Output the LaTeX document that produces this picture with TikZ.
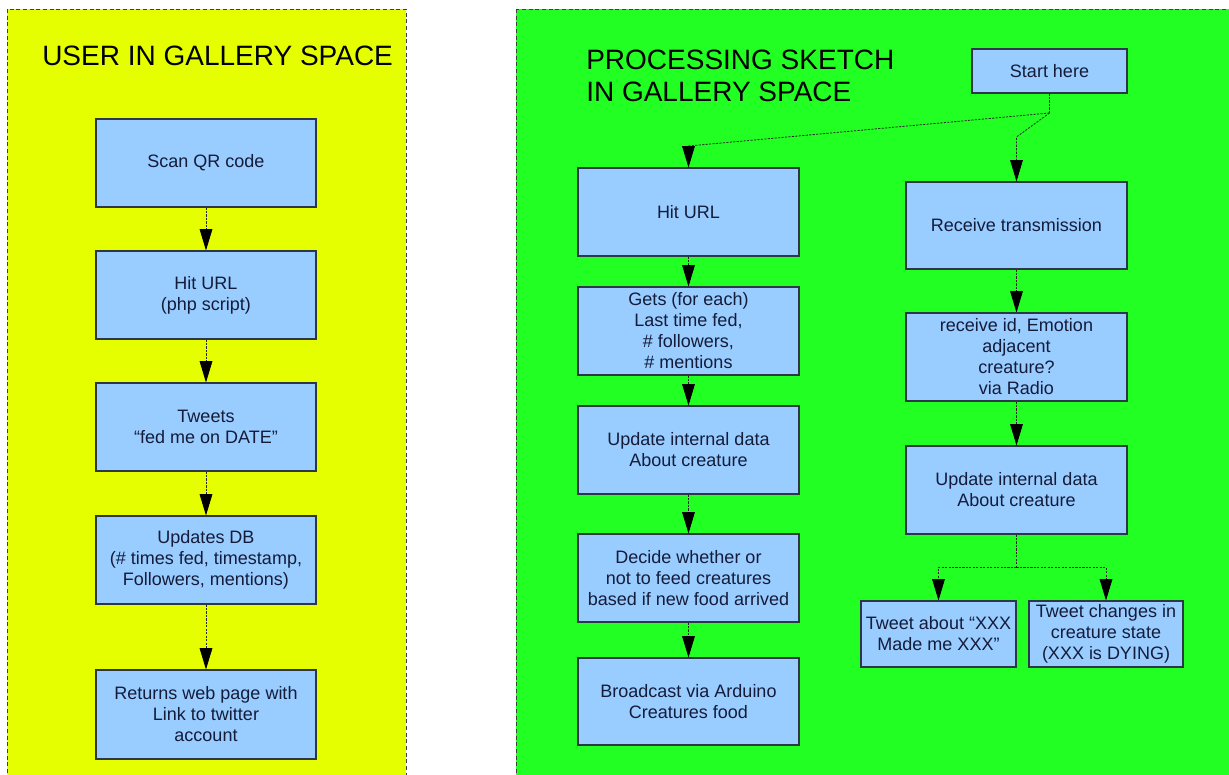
\documentclass[tikz,border=0pt]{standalone}
\usepackage{fontspec}
\setmainfont{Liberation Sans}
\usetikzlibrary{arrows.meta}
\definecolor{panelyellow}{RGB}{230,255,0}
\definecolor{panelgreen}{RGB}{34,255,34}
\definecolor{boxfill}{RGB}{153,204,255}
\definecolor{boxline}{RGB}{45,55,70}
\definecolor{boxtext}{RGB}{20,28,58}
\begin{document}
\begin{tikzpicture}[x=0.75pt,y=-0.75pt,
  panel/.style={draw=black!75, densely dashed, line width=0.5pt},
  box/.style={draw=boxline, fill=boxfill, line width=0.8pt, text=boxtext, align=center,
    inner sep=0pt, font=\fontsize{13.5}{15.75}\selectfont},
  sz/.style 2 args={minimum width=#1*0.75pt, minimum height=#2*0.75pt},
  title/.style={font=\fontsize{21}{24}\selectfont, text=black, inner sep=0pt, align=left},
  dline/.style={draw=black!85, line width=0.6pt, dash pattern=on 1.6pt off 1pt},
  conn/.style={dline, -{Triangle[length=16pt,width=9.5pt,color=black,fill=black]}}]
\clip (0,0) rectangle (1229,775);
\fill[white] (0,0) rectangle (1229,775);
% panels
\path[panel, fill=panelyellow] (7,9) rectangle (406,800);
\path[panel, fill=panelgreen] (516,9) rectangle (1240,800);
% titles
\node[title, anchor=base west] (t1) at (42,65) {USER IN GALLERY SPACE};
\node[title, anchor=north west] (t2) at (586,50) {PROCESSING SKETCH\\IN GALLERY SPACE};
% left column
\node[box, sz={220}{88}] (scan) at (206,163) {Scan QR code};
\node[box, sz={220}{88}] (hitl) at (206,295) {Hit URL\\(php script)};
\node[box, sz={220}{88}] (tweets) at (206,427) {Tweets\\“fed me on DATE”};
\node[box, sz={220}{88}] (updb) at (206,560) {Updates DB\\(\# times fed, timestamp,\\Followers, mentions)};
\node[box, sz={220}{89}] (ret) at (206,714.5) {Returns web page with\\Link to twitter\\account};
% green column 1
\node[box, sz={155}{44}] (start) at (1049.5,71) {Start here};
\node[box, sz={221}{88}] (hitr) at (688.5,212) {Hit URL};
\node[box, sz={221}{88}] (gets) at (688.5,331) {Gets (for each)\\Last time fed,\\\# followers,\\\# mentions};
\node[box, sz={221}{88}] (upda) at (688.5,450) {Update internal data\\About creature};
\node[box, sz={221}{88}] (decide) at (688.5,578) {Decide whether or\\not to feed creatures\\based if new food arrived};
\node[box, sz={221}{87}] (broad) at (688.5,701.5) {Broadcast via Arduino\\Creatures food};
% green column 2
\node[box, sz={221}{87}] (recv) at (1016.5,225.5) {Receive transmission};
\node[box, sz={221}{88}] (rid) at (1016.5,357) {receive id, Emotion\\adjacent\\creature?\\via Radio};
\node[box, sz={221}{88}] (updb2) at (1016.5,490) {Update internal data\\About creature};
\node[box, sz={155}{66}] (tw1) at (938.5,634) {Tweet about “XXX\\Made me XXX”};
\node[box, sz={154}{66}] (tw2) at (1106,634) {Tweet changes in\\creature state\\(XXX is DYING)};
% connectors left
\draw[conn] (scan.south) -- (hitl.north);
\draw[conn] (hitl.south) -- (tweets.north);
\draw[conn] (tweets.south) -- (updb.north);
\draw[conn] (updb.south) -- (ret.north);
% start split
\coordinate (j) at (1049.5,113);
\coordinate (jl) at (688.5,146);
\coordinate (jr) at (1016.5,137);
\draw[dline] (start.south) -- (j);
\draw[conn] (j) -- (jl) -- (hitr.north);
\draw[conn] (j) -- (jr) -- (recv.north);
% column 1
\draw[conn] (hitr.south) -- (gets.north);
\draw[conn] (gets.south) -- (upda.north);
\draw[conn] (upda.south) -- (decide.north);
\draw[conn] (decide.south) -- (broad.north);
% column 2
\draw[conn] (recv.south) -- (rid.north);
\draw[conn] (rid.south) -- (updb2.north);
\coordinate (split) at (1016.5,567);
\draw[dline] (updb2.south) -- (split);
\draw[conn] (split) -| (tw1.north);
\draw[conn] (split) -| (tw2.north);
\end{tikzpicture}
\end{document}
